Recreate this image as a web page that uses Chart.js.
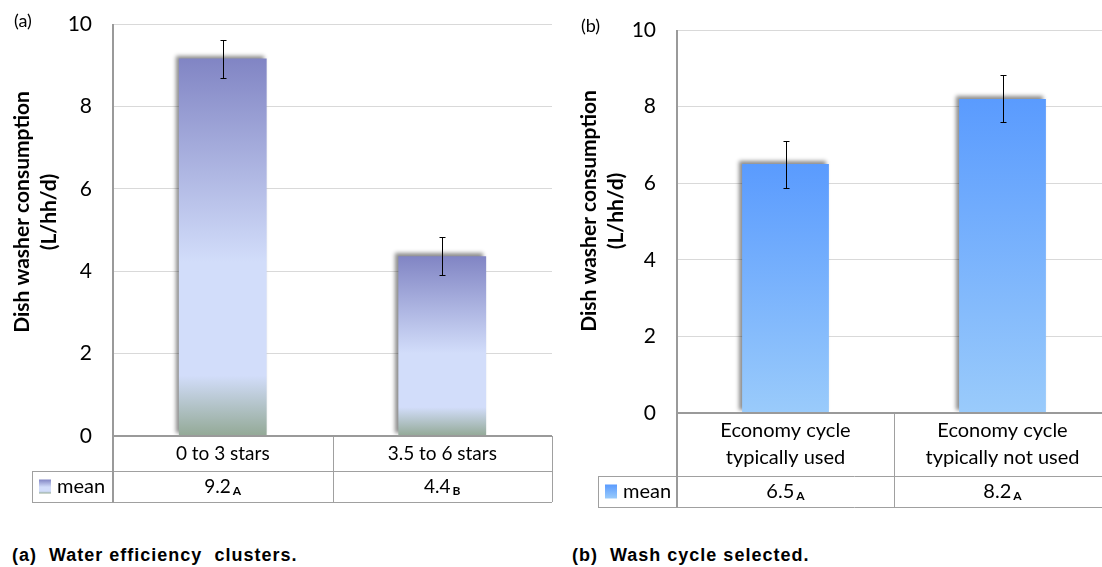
<!DOCTYPE html>
<html>
<head>
<meta charset="utf-8">
<title>Dish washer consumption</title>
<script src="https://cdn.jsdelivr.net/npm/chart.js@4.4.1/dist/chart.umd.min.js"></script>
<style>
    html, body { margin: 0; padding: 0; overflow: hidden; background: #fff; }
    body { position: relative; width: 1102px; height: 567px; font-family: Lato, sans-serif; }
    canvas { position: absolute; top: 0; }
    .tag { position: absolute; font-size: 18px; line-height: 20px; color: #000; }
    .caption { position: absolute; top: 545px; font: bold 18px "Liberation Sans", Arial, sans-serif; letter-spacing: 1px; white-space: pre; color: #000; }
</style>
</head>
<body>
<canvas id="chartA" style="left:0" width="560" height="515"></canvas>
<canvas id="chartB" style="left:560px" width="560" height="515"></canvas>
<div class="tag" style="left:14px; top:10px">(a)</div>
<div class="tag" style="left:581px; top:15px">(b)</div>
<div class="caption" style="left:12px">(a)  Water efficiency  clusters.</div>
<div class="caption" style="left:572px">(b)  Wash cycle selected.</div>
<script>
// Panel (a): water efficiency clusters
const clustersA = ['0 to 3 stars', '3.5 to 6 stars'];
const meanA = [9.16, 4.36];
const errLowA = [8.68, 3.91];
const errHighA = [9.62, 4.83];
const groupA = ['A', 'B'];

// Panel (b): wash cycle selected
const cyclesB = [['Economy cycle', 'typically used'], ['Economy cycle', 'typically not used']];
const meanB = [6.5, 8.2];
const errLowB = [5.87, 7.6];
const errHighB = [7.1, 8.82];
const groupB = ['A', 'A'];

const yTicks = [0, 2, 4, 6, 8, 10];
const yTitle = ['Dish washer consumption', '(L/hh/d)'];

// gradient stops, top of bar -> base
const stopsA = [[0, '#8185c4'], [0.54, '#d2ddfa'], [0.84, '#d2ddfa'], [1, '#93a996']];
const stopsB = [[0, '#5a9bfe'], [1, '#9acbfb']];

Chart.defaults.font.family = 'Lato, sans-serif';
Chart.defaults.color = '#000';

function barGradient(stops) {
    return function(context) {
        const chart = context.chart;
        if (!chart.chartArea || context.type !== 'data') return stops[0][1];
        const y = chart.scales.y;
        const g = chart.ctx.createLinearGradient(0, y.getPixelForValue(context.raw), 0, y.getPixelForValue(0));
        stops.forEach(s => g.addColorStop(s[0], s[1]));
        return g;
    };
}

// soft shadow on the top/left of the bars
const shadowPlugin = {
    id: 'barShadow',
    beforeDatasetDraw(chart) {
        const ctx = chart.ctx;
        ctx.save();
        ctx.shadowColor = 'rgba(0, 0, 0, 0.45)';
        ctx.shadowBlur = 4;
        ctx.shadowOffsetX = -3;
        ctx.shadowOffsetY = -3;
    },
    afterDatasetDraw(chart) {
        chart.ctx.restore();
    }
};

const errorBarPlugin = {
    id: 'errorBars',
    afterDatasetsDraw(chart) {
        const ds = chart.data.datasets[0];
        const y = chart.scales.y;
        const ctx = chart.ctx;
        ctx.save();
        ctx.strokeStyle = '#000';
        ctx.lineWidth = 1;
        chart.getDatasetMeta(0).data.forEach((bar, i) => {
            const x = Math.round(bar.x) + 0.5;
            const top = Math.round(y.getPixelForValue(ds.errHigh[i])) + 0.5;
            const bottom = Math.round(y.getPixelForValue(ds.errLow[i])) + 0.5;
            ctx.beginPath();
            ctx.moveTo(x, top); ctx.lineTo(x, bottom);
            ctx.moveTo(x - 3, top); ctx.lineTo(x + 3, top);
            ctx.moveTo(x - 3, bottom); ctx.lineTo(x + 3, bottom);
            ctx.stroke();
        });
        ctx.restore();
    }
};

// rotated two-line axis title
const yTitlePlugin = {
    id: 'yTitle',
    afterDraw(chart, args, opts) {
        const ctx = chart.ctx;
        ctx.save();
        ctx.translate(opts.x, opts.y);
        ctx.rotate(-Math.PI / 2);
        ctx.font = 'bold 21px Lato, sans-serif';
        ctx.fillStyle = '#000';
        ctx.textAlign = 'center';
        ctx.textBaseline = 'middle';
        yTitle.forEach((line, i) => ctx.fillText(line, 0, i * opts.gap));
        ctx.restore();
    }
};

// data table under the plot: category row + "mean" row
const tablePlugin = {
    id: 'dataTable',
    afterDraw(chart, args, opts) {
        const ctx = chart.ctx;
        const a = chart.chartArea;
        const x = chart.scales.x;
        const ds = chart.data.datasets[0];
        const n = chart.data.labels.length;
        const w = (a.right - a.left) / n;
        const rowTop = a.bottom + opts.catHeight;
        const rowBottom = rowTop + opts.rowHeight;
        const px = v => Math.round(v) + 0.5;
        const font = opts.fontSize + 'px Lato, sans-serif';
        const subFont = 'bold 12px Lato, sans-serif';

        ctx.save();
        ctx.strokeStyle = '#a0a0a0';
        ctx.lineWidth = 1;
        ctx.beginPath();
        for (let i = 1; i <= n; i++) {
            ctx.moveTo(px(a.left + i * w), a.bottom);
            ctx.lineTo(px(a.left + i * w), rowBottom);
        }
        ctx.moveTo(px(opts.legendLeft), rowTop);
        ctx.lineTo(px(opts.legendLeft), rowBottom);
        [rowTop, rowBottom].forEach(yy => {
            ctx.moveTo(opts.legendLeft, px(yy));
            ctx.lineTo(a.right, px(yy));
        });
        ctx.stroke();

        // axis lines carried down through the table
        ctx.strokeStyle = '#9a9a9a';
        ctx.lineWidth = 2;
        ctx.beginPath();
        ctx.moveTo(a.left, a.top);
        ctx.lineTo(a.left, rowBottom + 0.5);
        ctx.moveTo(a.left, a.bottom);
        ctx.lineTo(a.right, a.bottom);
        ctx.stroke();

        ctx.fillStyle = '#000';
        ctx.textBaseline = 'middle';
        const rowMid = (rowTop + rowBottom) / 2;
        chart.data.labels.forEach((label, i) => {
            const cx = x.getPixelForValue(i);
            const lines = Array.isArray(label) ? label : [label];
            ctx.textAlign = 'center';
            ctx.font = font;
            lines.forEach((line, j) => {
                ctx.fillText(line, cx, a.bottom + opts.catHeight / 2 + (j - (lines.length - 1) / 2) * opts.lineGap);
            });

            const val = ds.data[i].toFixed(1);
            const vw = ctx.measureText(val).width;
            ctx.font = subFont;
            const gw = ctx.measureText(ds.groups[i]).width;
            const start = cx - (vw + opts.subGap + gw) / 2;
            ctx.textAlign = 'left';
            ctx.font = font;
            ctx.fillText(val, start, rowMid);
            ctx.font = subFont;
            ctx.fillText(ds.groups[i], start + vw + opts.subGap, rowMid + 5);
        });

        // legend key
        const sx = opts.legendLeft + 7;
        const sy = rowMid - 7;
        const g = ctx.createLinearGradient(0, sy, 0, sy + 14);
        opts.stops.forEach(s => g.addColorStop(s[0], s[1]));
        ctx.fillStyle = g;
        ctx.fillRect(sx, sy, 12, 14);
        ctx.fillStyle = '#000';
        ctx.textAlign = 'left';
        ctx.font = '20px Lato, sans-serif';
        ctx.fillText('mean', opts.legendLeft + 25, rowMid);
        ctx.restore();
    }
};

function makeChart(id, labels, values, lows, highs, groups, stops, cfg) {
    return new Chart(document.getElementById(id), {
        type: 'bar',
        data: {
            labels: labels,
            datasets: [{
                label: 'mean',
                data: values,
                errLow: lows,
                errHigh: highs,
                groups: groups,
                backgroundColor: barGradient(stops),
                borderWidth: 0,
                categoryPercentage: 1,
                barPercentage: 0.4
            }]
        },
        options: {
            responsive: false,
            animation: false,
            layout: {
                autoPadding: false,
                padding: { left: 0, top: cfg.top, right: cfg.right, bottom: cfg.bottom }
            },
            plugins: {
                legend: { display: false },
                tooltip: { enabled: false },
                yTitle: cfg.title,
                dataTable: {
                    catHeight: cfg.catHeight,
                    rowHeight: 31,
                    lineGap: 27,
                    subGap: 2,
                    fontSize: cfg.fontSize,
                    legendLeft: cfg.legendLeft,
                    stops: stops
                }
            },
            scales: {
                x: { display: false },
                y: {
                    min: 0,
                    max: 10,
                    afterBuildTicks: scale => { scale.ticks = yTicks.map(v => ({ value: v })); },
                    afterFit: scale => {
                        scale.width = cfg.axisWidth;
                        scale.paddingTop = 0;
                        scale.paddingBottom = 0;
                    },
                    ticks: { font: { size: 21 }, padding: 21, color: '#000' },
                    grid: { color: '#d9d9d9', drawTicks: false },
                    border: { display: false }
                }
            }
        },
        plugins: [shadowPlugin, errorBarPlugin, yTitlePlugin, tablePlugin]
    });
}

makeChart('chartA', clustersA, meanA, errLowA, errHighA, groupA, stopsA, {
    top: 24, right: 8, bottom: 79, axisWidth: 113, catHeight: 35, legendLeft: 32, fontSize: 19,
    title: { x: 22, y: 212, gap: 27 }
});

makeChart('chartB', cyclesB, meanB, errLowB, errHighB, groupB, stopsB, {
    top: 30, right: 9, bottom: 102, axisWidth: 117, catHeight: 63, legendLeft: 38, fontSize: 20,
    title: { x: 29, y: 211, gap: 27 }
});
</script>
</body>
</html>
